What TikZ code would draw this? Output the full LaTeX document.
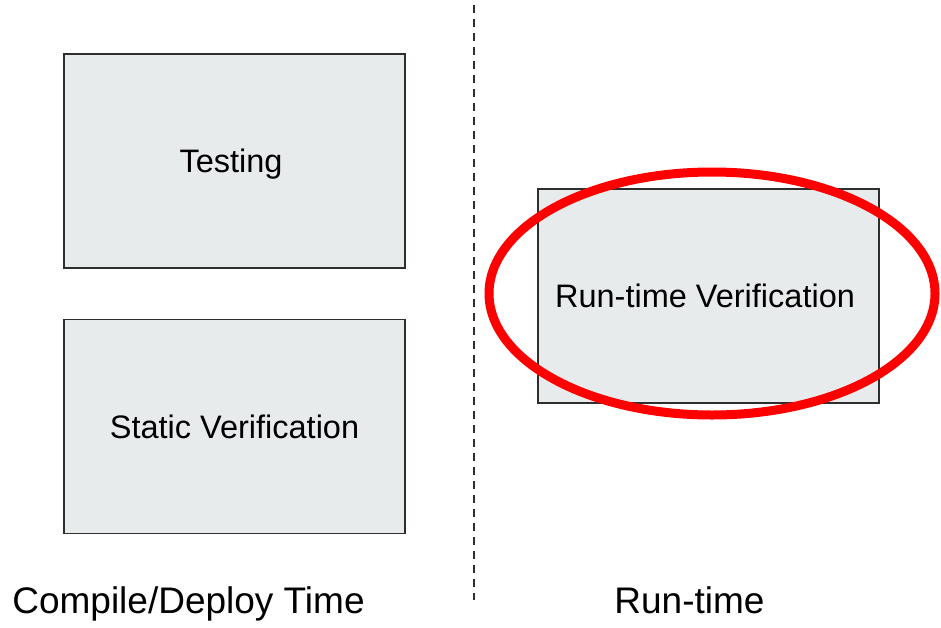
\documentclass[tikz,border=0pt]{standalone}
\usepackage{fontspec}
\setmainfont{Liberation Sans}
\usetikzlibrary{shapes.geometric}
\definecolor{boxfill}{HTML}{E8EBEC}
\definecolor{boxline}{HTML}{2E2E2E}
\definecolor{ringred}{HTML}{FF0000}
\tikzset{
  phase/.style={draw=boxline, line width=1.8pt, fill=boxfill, rectangle,
    minimum width=341pt, minimum height=214pt, inner sep=0pt,
    font=\fontsize{32.5}{37}\selectfont, text height=23pt, text depth=0pt},
  caption/.style={anchor=base, inner sep=0pt, font=\fontsize{37}{42}\selectfont},
  divider/.style={draw=boxline, line width=1.5pt, dash pattern=on 8pt off 6pt},
  ring/.style={draw=ringred, line width=9pt}
}
\begin{document}
\begin{tikzpicture}[x=1pt, y=-1pt]
  \useasboundingbox (0,0) rectangle (941,627);

  % phase boxes (trailing space nudges the label slightly left of centre)
  \node[phase] (testing) at (234.5,161) {Testing\hspace*{7pt}};
  \node[phase] (static) at (234.5,426.5) {Static Verification};
  \node[phase] (rtv) at (708.5,296) {Run-time Verification\hspace*{7pt}};

  % highlight ring around the run-time box
  \draw[ring] (712,293.5) ellipse [x radius=223, y radius=121.5];

  % separator between compile/deploy time and run-time
  \coordinate (divtop) at (474,5);
  \coordinate (divbot) at (474,600);
  \draw[divider] (divtop) -- (divbot);

  % column captions
  \node[caption] (cdt) at (188.5,613) {Compile/Deploy Time};
  \node[caption] (rt) at (689.5,613) {Run-time};
\end{tikzpicture}
\end{document}
